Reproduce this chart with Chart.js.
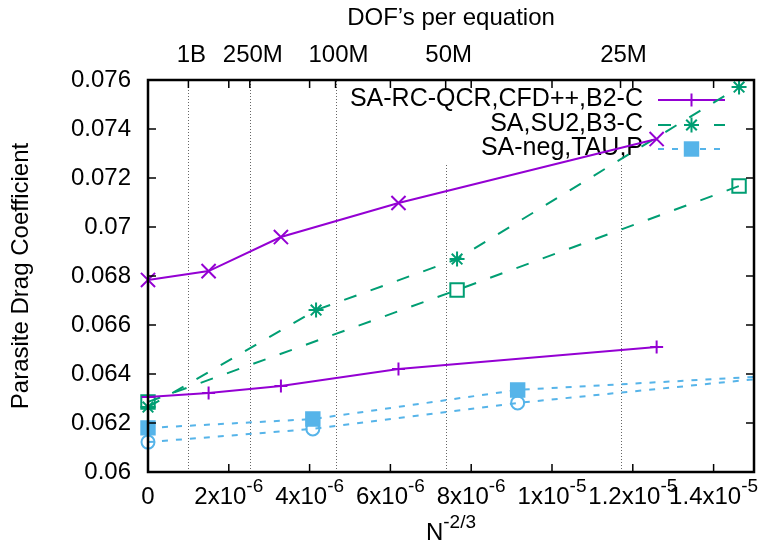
<!DOCTYPE html>
<html>
<head>
<meta charset="utf-8">
<script src="https://cdn.jsdelivr.net/npm/chart.js@4/dist/chart.umd.min.js"></script>
<style>
  html, body { margin: 0; padding: 0; background: #fff; }
  #wrap { width: 768px; height: 547px; }
</style>
</head>
<body>
<div id="wrap"><canvas id="dragChart"></canvas></div>
<script>
// values (x = N^-2/3)
const cfdX = [0, 1.5e-6, 3.29e-6, 6.2e-6, 1.259e-5]
const cfdPlus = [0.06306, 0.06322, 0.06351, 0.0642, 0.0651]
const cfdCross = [0.06784, 0.0682, 0.06959, 0.07098, 0.07359]
const su2StarX = [0, 4.16e-6, 7.65e-6, 1.463e-5]
const su2Star = [0.06265, 0.06661, 0.06869, 0.07571]
const su2BoxX = [0, 7.65e-6, 1.463e-5]
const su2Box = [0.06286, 0.06743, 0.07167]
const tauX = [0, 4.08e-6, 9.15e-6, 2.05e-5]
const tauSquare = [0.0618, 0.06216, 0.06335, 0.06438]
const tauCircle = [0.06122, 0.06176, 0.06282, 0.06469]

const legendLabels = ['SA-RC-QCR,CFD++,B2-C', 'SA,SU2,B3-C', 'SA-neg,TAU,P']
const yTicks = [0.06, 0.062, 0.064, 0.066, 0.068, 0.07, 0.072, 0.074, 0.076]
const xTicks = [0, 2e-6, 4e-6, 6e-6, 8e-6, 1e-5, 1.2e-5, 1.4e-5]
const dofLabels = ['1B', '250M', '100M', '50M', '25M']
const dofCounts = [1e9, 2.5e8, 1e8, 5e7, 2.5e7]

const purple = '#9400d3'
const green = '#009e73'
const blue = '#56b4e9'
const FONT = '"Liberation Sans", Arial, Helvetica, sans-serif'

const pts = (xs, ys) => xs.map((x, i) => ({x: x, y: ys[i]}))

function series(data, color, dash, style, radius, fill) {
  return {
    data: data,
    showLine: true,
    borderColor: color,
    backgroundColor: fill ? color : 'rgba(0,0,0,0)',
    borderWidth: 2,
    borderDash: dash,
    pointStyle: style,
    pointRadius: radius,
    pointHoverRadius: radius,
    pointBorderWidth: 2,
    clip: {left: 15, top: 15, right: 0, bottom: 15}
  }
}

const datasets = [
  series(pts(cfdX, cfdPlus), purple, [], 'cross', 6.5, true),
  series(pts(cfdX, cfdCross), purple, [], 'crossRot', 10, true),
  series(pts(su2StarX, su2Star), green, [13, 15], 'star', 7.5, true),
  series(pts(su2BoxX, su2Box), green, [13, 15], 'rect', 9.5, false),
  series(pts(tauX, tauSquare), blue, [6, 8], 'rect', 9.5, true),
  series(pts(tauX, tauCircle), blue, [6, 8], 'circle', 6.5, false)
]
// which dataset stands for each legend row
const legendSets = [0, 2, 4]

function line(ctx, x1, y1, x2, y2) {
  ctx.beginPath()
  ctx.moveTo(x1, y1)
  ctx.lineTo(x2, y2)
  ctx.stroke()
}

function marker(ctx, style, r, x, y, color, fill) {
  ctx.save()
  ctx.strokeStyle = color
  ctx.fillStyle = color
  ctx.lineWidth = 2
  ctx.setLineDash([])
  if (style === 'cross' || style === 'star') {
    line(ctx, x - r, y, x + r, y)
    line(ctx, x, y - r, x, y + r)
  }
  if (style === 'star') {
    const d = r * Math.SQRT1_2
    line(ctx, x - d, y - d, x + d, y + d)
    line(ctx, x - d, y + d, x + d, y - d)
  }
  if (style === 'rect') {
    const s = r * Math.SQRT1_2
    if (fill) ctx.fillRect(x - s, y - s, 2 * s, 2 * s)
    ctx.strokeRect(x - s, y - s, 2 * s, 2 * s)
  }
  ctx.restore()
}

function sciLabel(v) {
  if (v === 0) return ['0', '']
  const e = Math.floor(Math.log10(v) + 1e-9)
  const m = +(v / Math.pow(10, e)).toFixed(2)
  return [m + 'x10', String(e)]
}

// text with a raised superscript, centred on cx
function supText(ctx, base, sup, cx, cy, size) {
  ctx.font = size + 'px ' + FONT
  const w1 = ctx.measureText(base).width
  ctx.font = Math.round(size * 0.8) + 'px ' + FONT
  const w2 = sup ? ctx.measureText(sup).width : 0
  let x0 = cx - (w1 + w2) / 2
  ctx.textAlign = 'left'
  ctx.textBaseline = 'middle'
  ctx.font = size + 'px ' + FONT
  ctx.fillText(base, x0, cy)
  if (sup) {
    ctx.font = Math.round(size * 0.8) + 'px ' + FONT
    ctx.fillText(sup, x0 + w1, cy - size * 0.42)
  }
}

const gnuplotLook = {
  id: 'gnuplotLook',
  beforeDatasetsDraw(chart) {
    const {ctx, chartArea: a, scales: {x}} = chart
    ctx.save()
    // dotted lines at the DOF counts
    ctx.strokeStyle = '#666'
    ctx.lineWidth = 1
    ctx.setLineDash([1, 2])
    dofCounts.forEach(n => {
      const px = Math.round(x.getPixelForValue(Math.pow(n, -2 / 3))) + 0.5
      line(ctx, px, a.bottom, px, a.top)
    })
    ctx.setLineDash([])
    // key background
    ctx.fillStyle = '#fff'
    ctx.fillRect(344, a.top + 1, a.right - 344, 162 - a.top)
    // key
    const rows = [100, 125, 149]
    ctx.font = '25px ' + FONT
    ctx.textAlign = 'right'
    ctx.textBaseline = 'middle'
    legendSets.forEach((di, i) => {
      const ds = datasets[di]
      ctx.fillStyle = '#000'
      ctx.fillText(legendLabels[i], 643, rows[i] - 1)
      ctx.strokeStyle = ds.borderColor
      ctx.lineWidth = 2
      ctx.setLineDash(ds.borderDash)
      line(ctx, 658, rows[i], 725, rows[i])
      ctx.setLineDash([])
      marker(ctx, ds.pointStyle, ds.pointRadius, 691.5, rows[i], ds.borderColor, true)
    })
    ctx.restore()
  },
  afterDatasetsDraw(chart) {
    const {ctx, chartArea: a, scales: {x, y}} = chart
    ctx.save()
    ctx.strokeStyle = '#000'
    ctx.lineWidth = 1.5
    yTicks.forEach(v => {
      const py = y.getPixelForValue(v)
      line(ctx, a.left, py, a.left + 8, py)
      line(ctx, a.right, py, a.right - 8, py)
    })
    xTicks.forEach(v => {
      const px = x.getPixelForValue(v)
      line(ctx, px, a.bottom, px, a.bottom - 8)
      line(ctx, px, a.top, px, a.top + 8)
    })
    dofCounts.forEach(n => {
      const px = x.getPixelForValue(Math.pow(n, -2 / 3))
      line(ctx, px, a.top, px, a.top + 8)
    })
    ctx.lineWidth = 2.5
    ctx.strokeRect(a.left, a.top, a.right - a.left, a.bottom - a.top)

    ctx.fillStyle = '#000'
    // bottom tick labels
    xTicks.forEach(v => {
      const [base, sup] = sciLabel(v)
      supText(ctx, base, sup, x.getPixelForValue(v), 497, 24)
    })
    // top DOF labels
    ctx.font = '24px ' + FONT
    ctx.textAlign = 'center'
    ctx.textBaseline = 'middle'
    dofCounts.forEach((n, i) => {
      ctx.fillText(dofLabels[i], x.getPixelForValue(Math.pow(n, -2 / 3)) + 3, 55)
    })
    const cx = (a.left + a.right) / 2
    ctx.fillText('DOF\u2019s per equation', cx, 18)
    supText(ctx, 'N', '-2/3', cx, 533, 24)
    ctx.translate(21, (a.top + a.bottom) / 2)
    ctx.rotate(-Math.PI / 2)
    ctx.textAlign = 'center'
    ctx.font = '24px ' + FONT
    ctx.fillText('Parasite Drag Coefficient', 0, 0)
    ctx.restore()
  }
}

new Chart(document.getElementById('dragChart'), {
  type: 'scatter',
  data: {datasets: datasets},
  options: {
    responsive: true,
    maintainAspectRatio: false,
    animation: false,
    events: [],
    layout: {padding: {top: 80, right: 14, left: 0, bottom: 0}},
    plugins: {legend: {display: false}, tooltip: {enabled: false}},
    scales: {
      x: {
        type: 'linear',
        min: 0,
        max: 1.5e-5,
        grid: {display: false, drawTicks: false},
        border: {display: false},
        ticks: {display: false},
        afterBuildTicks: s => { s.ticks = xTicks.map(v => ({value: v})) },
        afterFit: s => { s.height = 75 }
      },
      y: {
        min: 0.06,
        max: 0.076,
        grid: {display: false, drawTicks: false},
        border: {display: false},
        ticks: {
          color: '#000',
          padding: 17,
          font: {family: FONT, size: 24},
          callback: v => String(+v.toFixed(3))
        },
        afterBuildTicks: s => { s.ticks = yTicks.map(v => ({value: v})) },
        afterFit: s => { s.width = 148 }
      }
    }
  },
  plugins: [gnuplotLook]
})
</script>
</body>
</html>
